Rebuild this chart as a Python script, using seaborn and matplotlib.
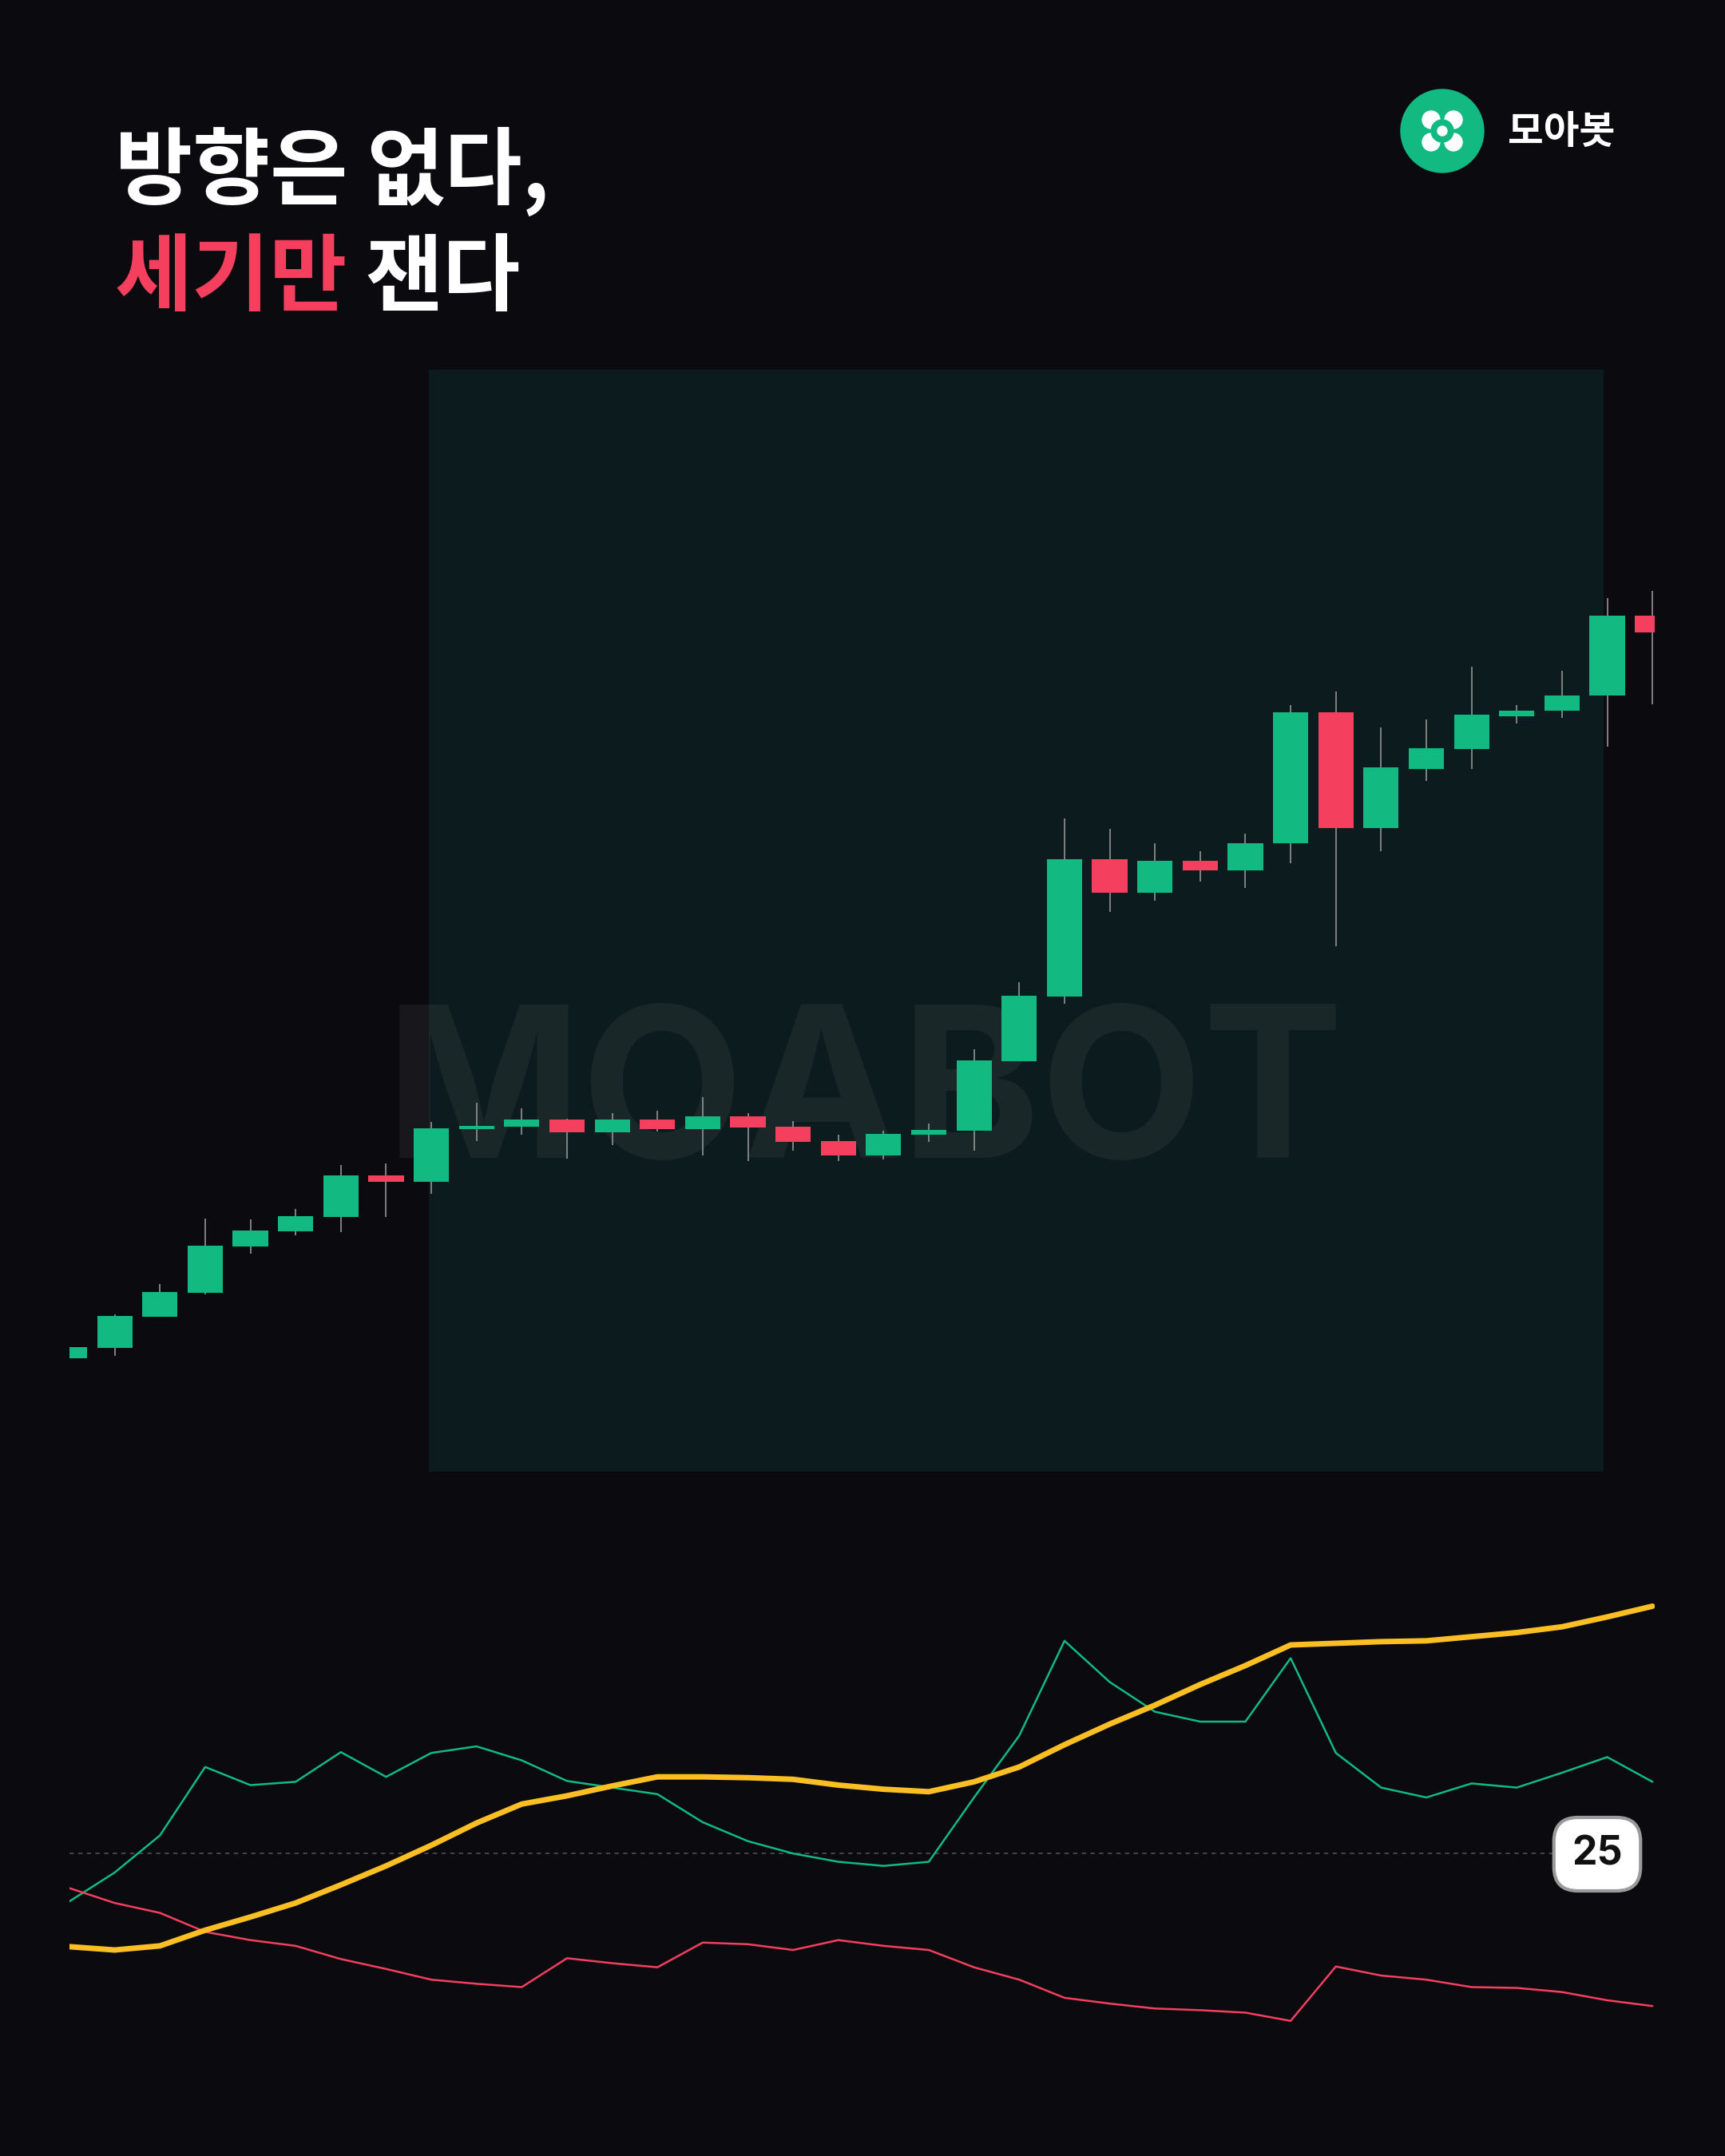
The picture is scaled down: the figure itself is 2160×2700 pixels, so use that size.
import matplotlib
matplotlib.use("Agg")
import matplotlib.pyplot as plt
import seaborn as sns
import numpy as np
import pandas as pd
from matplotlib.patches import Rectangle, Circle

sns.set_theme(style="dark")
plt.rcParams['font.family'] = ['Noto Sans CJK KR', 'DejaVu Sans']

BG = "#0a0a0f"
GREEN = "#12b981"
RED = "#f43f5e"
YELLOW = "#fbbf24"

opens  = [299,312,351,381,439,458,476,528,520,586,589,598,582,598,586,602,589,571,553,579,
          584,671,752,924,882,922,910,944,1108,963,1037,1062,1103,1110,1129,1229]
closes = [313,352,382,440,459,477,528,520,587,590,598,582,598,586,602,588,570,553,580,585,
          672,753,924,882,922,910,944,1108,963,1039,1063,1105,1110,1129,1229,1208]
highs  = [313,354,392,474,473,486,541,543,595,619,612,599,606,609,626,606,596,579,584,593,
          686,770,975,962,944,934,956,1117,1134,1089,1099,1165,1117,1160,1251,1260]
lows   = [299,302,351,379,430,453,457,476,505,571,579,549,566,583,553,546,559,546,548,570,
          559,671,743,858,872,896,888,919,815,934,1022,1037,1094,1101,1065,1118]

adx   = [13.7,13.3,13.8,15.7,17.3,19.0,21.2,23.5,26.0,28.7,31.0,32.0,33.2,34.3,34.3,34.2,34.0,33.3,
         32.8,32.5,33.7,35.5,38.2,40.7,43.0,45.5,47.8,50.3,50.5,50.7,50.8,51.3,51.8,52.5,53.7,55.0]
plus_di = [19.2,22.7,27.2,35.5,33.3,33.7,37.3,34.3,37.2,38.0,36.3,33.8,33.0,32.2,28.8,26.5,25.0,24.0,
           23.5,24.0,31.8,39.3,50.8,45.8,42.2,41.0,41.0,48.7,37.2,33.0,31.8,33.5,33.0,34.8,36.7,33.7]
minus_di = [20.8,19.0,17.8,15.5,14.5,13.8,12.2,11.0,9.7,9.2,8.8,12.3,11.7,11.2,14.2,14.0,13.3,14.5,
            13.8,13.3,11.2,9.7,7.5,6.8,6.2,6.0,5.7,4.7,11.3,10.2,9.7,8.8,8.7,8.2,7.2,6.5]
threshold = 25

W, H = 2160, 2700
fig = plt.figure(figsize=(21.6, 27), dpi=100, facecolor=BG)

def fx(px): return px / W
def fy(py): return 1 - py / H

XMAX = 35.05

# background panel
fig.patches.append(Rectangle((fx(537), fy(1843)), fx(2008-537), (1843-463)/H,
                             transform=fig.transFigure, facecolor="#0c1b1d", edgecolor="none", zorder=-3))
fig.text(fx(1083), fy(1450), "MOABOT", fontsize=190, fontweight="bold", family=["Inter", "DejaVu Sans"],
         color="white", alpha=0.055, ha="center", va="baseline", zorder=-2)

# candles
n = len(opens)
x = np.arange(n)
ax = fig.add_axes([fx(87), fy(1900), fx(2072-87), 1500/H])
ax.set_facecolor("none")
ax.vlines(x, lows, highs, color="#8a8a8a", linewidth=1.3, zorder=1)
o = np.array(opens); c = np.array(closes)
cols = [GREEN if cc >= oo else RED for oo, cc in zip(o, c)]
ax.bar(x, np.abs(c - o) + 0.01, bottom=np.minimum(o, c), width=0.78, color=cols, zorder=2, linewidth=0)
ax.set_xlim(0, XMAX)
ax.set_ylim(100, 1600)
ax.axis("off")

# indicator
ax2 = fig.add_axes([fx(87), fy(2569), fx(2072-87), (2569-1980.5)/H])
ax2.set_facecolor("none")
df = pd.DataFrame({"x": x, "adx": adx, "plus": plus_di, "minus": minus_di})
ax2.plot([0, 32.8], [threshold, threshold], linestyle=(0, (3, 3)), color="#4a4a50", linewidth=1.3)
sns.lineplot(data=df, x="x", y="plus", ax=ax2, color=GREEN, linewidth=1.8)
sns.lineplot(data=df, x="x", y="minus", ax=ax2, color=RED, linewidth=1.8)
sns.lineplot(data=df, x="x", y="adx", ax=ax2, color=YELLOW, linewidth=5)
ax2.set_xlim(0, XMAX)
ax2.set_ylim(1, 58)
ax2.axis("off")
fig.text(fx(2000), fy(2322), str(threshold), fontsize=36, fontweight="bold", color="#111111",
         ha="center", va="center", family=["Inter", "DejaVu Sans"],
         bbox=dict(boxstyle="round,pad=0.45,rounding_size=0.6", facecolor="white",
                   edgecolor="#9a9a9a", linewidth=3))

# title
TS = 76
fig.text(fx(144), fy(215), "방향은 없다,", fontsize=TS, fontweight="bold", color="white", va="center")
t = fig.text(fx(144), fy(350), "세기만", fontsize=TS, fontweight="bold", color=RED, va="center")
fig.canvas.draw()
bb = t.get_window_extent()
fig.text(bb.x1 / W + fx(22), fy(350), "잰다", fontsize=TS, fontweight="bold", color="white", va="center")

# logo
lax = fig.add_axes([fx(1806 - 60), fy(164 + 60), fx(120), 120 / H])
lax.set_xlim(-60, 60); lax.set_ylim(-60, 60); lax.set_aspect("equal"); lax.axis("off")
lax.add_patch(Circle((0, 0), 52, color=GREEN))
for dx in (-14, 14):
    for dy in (-14, 14):
        lax.add_patch(Circle((dx, dy), 11, color="white"))
lax.add_patch(Circle((0, 0), 14, color=GREEN))
lax.add_patch(Circle((0, 0), 6, color="white"))
fig.text(fx(1888), fy(165), "모아봇", fontsize=35, fontweight="bold", color="white", va="center")

fig.savefig("out.png", dpi=100, facecolor=BG)
